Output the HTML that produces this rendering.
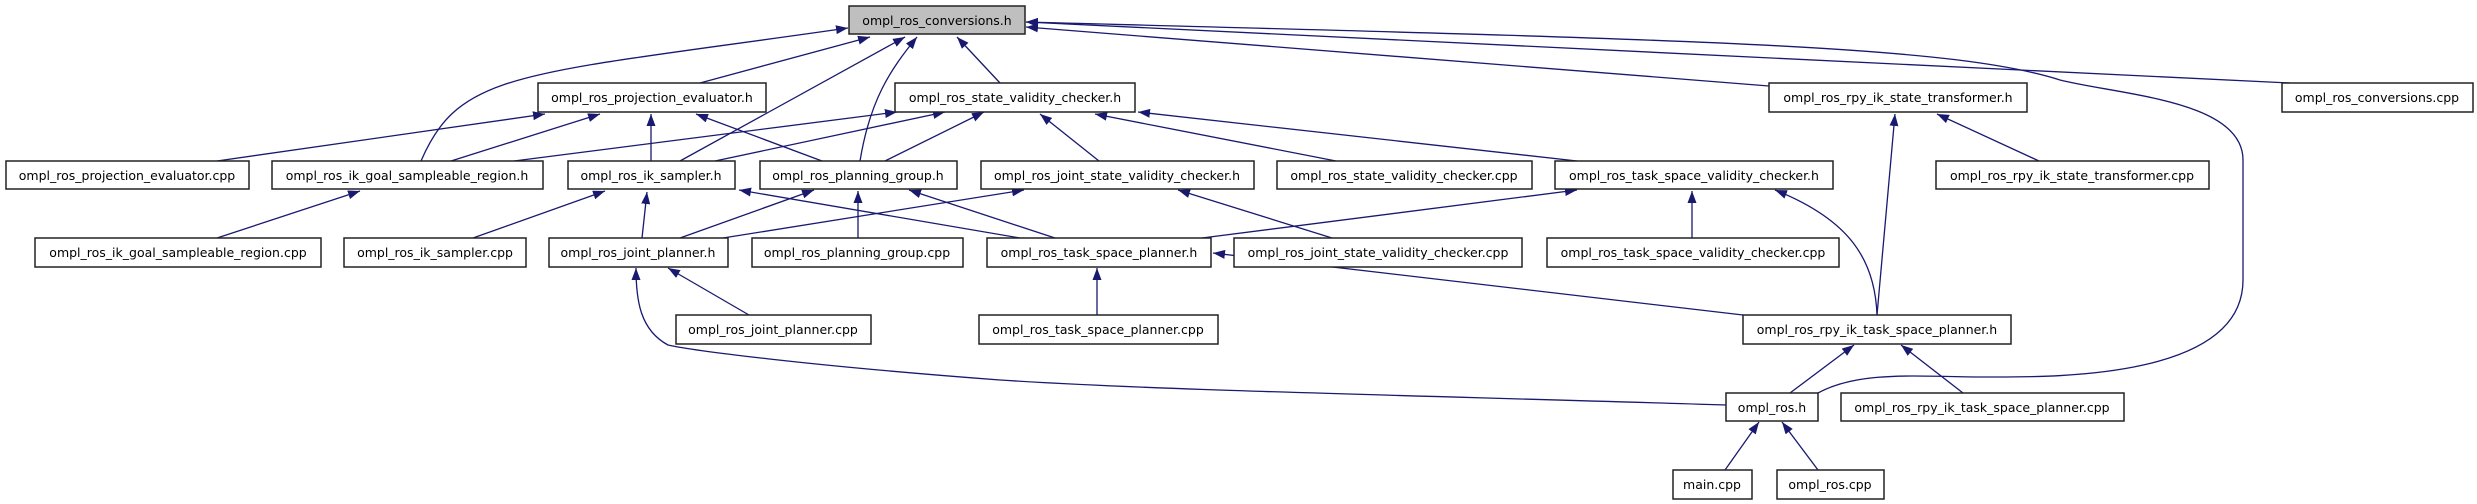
<!DOCTYPE html>
<html><head><meta charset="utf-8"><style>
html,body{margin:0;padding:0;background:#fff;}
svg{display:block;}
text{font-family:"DejaVu Sans","Liberation Sans",sans-serif;font-size:12.5px;fill:#000;}
.b{fill:#fff;stroke:#222;stroke-width:1.5;}
.e{fill:none;stroke:#191970;stroke-width:1.3;marker-end:url(#a);}
</style></head><body>
<svg width="2477" height="504" viewBox="0 0 2477 504" xmlns="http://www.w3.org/2000/svg">
<defs><marker id="a" markerWidth="12" markerHeight="9" refX="12" refY="4.5" orient="auto" markerUnits="userSpaceOnUse"><path d="M0,0 L12,4.5 L0,9 z" fill="#191970"/></marker></defs>
<g>
<!-- edges to root -->
<path class="e" d="M700,83 L870,37"/>
<path class="e" d="M1000,83 L957,37"/>
<path class="e" d="M421,161 C460,70 520,75 848,28"/>
<path class="e" d="M680,161 L905,37"/>
<path class="e" d="M860,161 C870,100 890,70 917,37"/>
<path class="e" d="M1769,86 L1026,27"/>
<path class="e" d="M2290,83 L1026,22"/>
<path class="e" d="M1818,393 C1860,370 1920,377 1988,377 C2050,377 2243,380 2243,280 L2243,160 C2243,100 2120,95 2060,80 C1950,45 1700,40 1026,22"/>
<!-- projection_evaluator.h -->
<path class="e" d="M217,161 L545,114"/>
<path class="e" d="M451,161 L600,114"/>
<path class="e" d="M651,161 L651,114"/>
<path class="e" d="M822,161 L696,114"/>
<!-- state_validity_checker.h -->
<path class="e" d="M514,161 L897,112"/>
<path class="e" d="M715,161 L945,112"/>
<path class="e" d="M885,161 L984,112"/>
<path class="e" d="M1099,161 L1040,114"/>
<path class="e" d="M1336,161 L1095,114"/>
<path class="e" d="M1577,161 L1138,112"/>
<!-- row2 parents -->
<path class="e" d="M217,238 L360,191"/>
<path class="e" d="M473,238 L605,191"/>
<path class="e" d="M642,238 L647,192"/>
<path class="e" d="M1020,238 L739,190"/>
<path class="e" d="M680,238 L814,190"/>
<path class="e" d="M858,238 L858,191"/>
<path class="e" d="M1055,238 L909,190"/>
<path class="e" d="M723,238 L1024,190"/>
<path class="e" d="M1332,238 L1178,190"/>
<path class="e" d="M1202,238 L1577,190"/>
<path class="e" d="M1692,238 L1692,191"/>
<path class="e" d="M1877,315 C1875,260 1850,220 1775,190"/>
<!-- joint_planner.h -->
<path class="e" d="M749,315 L668,268"/>
<path class="e" d="M1726,405 C1400,395 1150,390 1000,380 C800,365 690,350 668,345 C640,330 636,300 636,268"/>
<!-- task_space_planner.h -->
<path class="e" d="M1097,315 L1097,268"/>
<path class="e" d="M1743,315 L1213,253"/>
<!-- rpy_ik_state_transformer.h -->
<path class="e" d="M1877,315 L1895,114"/>
<path class="e" d="M2039,161 L1937,114"/>
<!-- rpy_ik_task_space_planner.h -->
<path class="e" d="M1790,393 L1854,345"/>
<path class="e" d="M1963,393 L1901,345"/>
<!-- ompl_ros.h -->
<path class="e" d="M1725,470 L1759,422"/>
<path class="e" d="M1818,470 L1782,422"/>
</g>
<g>
<rect x="849" y="6" width="176" height="28" fill="#bfbfbf" stroke="#222" stroke-width="1.5"/><text x="937" y="25" text-anchor="middle">ompl_ros_conversions.h</text>

<rect class="b" x="538" y="83" width="228" height="29"/><text x="652" y="102" text-anchor="middle">ompl_ros_projection_evaluator.h</text>
<rect class="b" x="895" y="83" width="240" height="29"/><text x="1015" y="102" text-anchor="middle">ompl_ros_state_validity_checker.h</text>
<rect class="b" x="1769" y="83" width="258" height="29"/><text x="1898" y="102" text-anchor="middle">ompl_ros_rpy_ik_state_transformer.h</text>
<rect class="b" x="2282" y="83" width="191" height="29"/><text x="2377" y="102" text-anchor="middle">ompl_ros_conversions.cpp</text>

<rect class="b" x="6" y="161" width="243" height="28"/><text x="127" y="180" text-anchor="middle">ompl_ros_projection_evaluator.cpp</text>
<rect class="b" x="272" y="161" width="271" height="28"/><text x="407" y="180" text-anchor="middle">ompl_ros_ik_goal_sampleable_region.h</text>
<rect class="b" x="568" y="161" width="167" height="28"/><text x="651" y="180" text-anchor="middle">ompl_ros_ik_sampler.h</text>
<rect class="b" x="760" y="161" width="197" height="28"/><text x="858" y="180" text-anchor="middle">ompl_ros_planning_group.h</text>
<rect class="b" x="981" y="161" width="273" height="28"/><text x="1117" y="180" text-anchor="middle">ompl_ros_joint_state_validity_checker.h</text>
<rect class="b" x="1277" y="161" width="255" height="28"/><text x="1404" y="180" text-anchor="middle">ompl_ros_state_validity_checker.cpp</text>
<rect class="b" x="1555" y="161" width="278" height="28"/><text x="1694" y="180" text-anchor="middle">ompl_ros_task_space_validity_checker.h</text>
<rect class="b" x="1936" y="161" width="273" height="28"/><text x="2072" y="180" text-anchor="middle">ompl_ros_rpy_ik_state_transformer.cpp</text>

<rect class="b" x="35" y="238" width="286" height="29"/><text x="178" y="257" text-anchor="middle">ompl_ros_ik_goal_sampleable_region.cpp</text>
<rect class="b" x="344" y="238" width="182" height="29"/><text x="435" y="257" text-anchor="middle">ompl_ros_ik_sampler.cpp</text>
<rect class="b" x="549" y="238" width="179" height="29"/><text x="638" y="257" text-anchor="middle">ompl_ros_joint_planner.h</text>
<rect class="b" x="752" y="238" width="211" height="29"/><text x="857" y="257" text-anchor="middle">ompl_ros_planning_group.cpp</text>
<rect class="b" x="987" y="238" width="224" height="29"/><text x="1099" y="257" text-anchor="middle">ompl_ros_task_space_planner.h</text>
<rect class="b" x="1234" y="238" width="288" height="29"/><text x="1378" y="257" text-anchor="middle">ompl_ros_joint_state_validity_checker.cpp</text>
<rect class="b" x="1547" y="238" width="292" height="29"/><text x="1693" y="257" text-anchor="middle">ompl_ros_task_space_validity_checker.cpp</text>

<rect class="b" x="676" y="315" width="195" height="29"/><text x="773" y="334" text-anchor="middle">ompl_ros_joint_planner.cpp</text>
<rect class="b" x="979" y="315" width="239" height="29"/><text x="1098" y="334" text-anchor="middle">ompl_ros_task_space_planner.cpp</text>
<rect class="b" x="1743" y="315" width="268" height="29"/><text x="1877" y="334" text-anchor="middle">ompl_ros_rpy_ik_task_space_planner.h</text>

<rect class="b" x="1726" y="393" width="92" height="28"/><text x="1772" y="412" text-anchor="middle">ompl_ros.h</text>
<rect class="b" x="1841" y="393" width="283" height="28"/><text x="1982" y="412" text-anchor="middle">ompl_ros_rpy_ik_task_space_planner.cpp</text>

<rect class="b" x="1673" y="470" width="79" height="29"/><text x="1712" y="489" text-anchor="middle">main.cpp</text>
<rect class="b" x="1777" y="470" width="107" height="29"/><text x="1830" y="489" text-anchor="middle">ompl_ros.cpp</text>
</g>
</svg>
</body></html>
